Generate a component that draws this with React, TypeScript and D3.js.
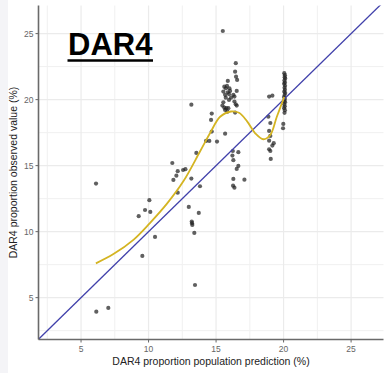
import React from 'react'
import * as d3 from 'd3'

// [population prediction %, observed value %]
const lowPoints: [number, number][] = [
  [6.11, 13.64], [6.13, 3.94], [7.02, 4.22], [9.27, 11.17], [9.54, 8.16],
  [9.74, 11.64], [10.06, 12.38], [10.13, 11.49], [10.48, 9.6],
]
const midPoints: [number, number][] = [
  [11.76, 15.2], [11.84, 13.92], [12.06, 14.24], [12.16, 14.58], [12.16, 12.95],
  [12.56, 14.67], [12.73, 14.73], [12.98, 11.87], [13.17, 19.62], [13.17, 14.02],
  [13.2, 10.76], [13.22, 10.64], [13.24, 10.51], [13.39, 9.9], [13.44, 5.96],
  [13.54, 15.96], [13.72, 11.42], [13.81, 13.44],
  [14.26, 16.87], [14.5, 16.87], [14.63, 18.46], [14.68, 18.94], [14.68, 17.58],
  [15.07, 16.82],
]
const peakCluster: [number, number][] = [
  [15.5, 25.2], [16.46, 22.76], [16.41, 22.12], [16.48, 21.74], [16.56, 21.49],
  [15.87, 21.42], [15.61, 20.98], [15.81, 21.04], [15.72, 20.86], [15.99, 20.86],
  [16.53, 20.66], [15.54, 20.61], [15.87, 20.56], [16.04, 20.66], [15.67, 20.36],
  [15.96, 20.41], [16.28, 20.36], [15.72, 20.15], [16.11, 20.15], [16.36, 20.23],
  [15.54, 19.8], [15.96, 19.98], [16.36, 19.85], [15.47, 19.55], [15.61, 19.39],
  [15.76, 19.35], [15.91, 19.35], [16.46, 19.65], [16.53, 19.55], [15.67, 19.22],
  [15.84, 19.09], [16.41, 19.02], [15.67, 17.42],
  [16.24, 16.11], [16.65, 16.02], [16.21, 15.76], [16.28, 15.41], [16.65, 14.98],
  [16.53, 14.75], [16.28, 13.99], [17.1, 13.94], [16.26, 13.48], [16.36, 13.33],
]
const cluster19: [number, number][] = [
  [18.93, 20.23], [19.17, 20.3], [18.87, 18.71], [19.02, 18.23], [18.93, 17.63],
  [19.02, 17.25], [18.93, 16.89], [19.27, 16.7], [19.17, 16.52], [18.93, 16.24],
  [19.02, 16.11], [19.05, 15.51],
]
const column20: [number, number][] = [
  [20.05, 22.0], [20.1, 21.85], [20.08, 21.7], [20.12, 21.6], [20.06, 21.45],
  [20.1, 21.3], [20.04, 21.2], [20.11, 21.05], [20.07, 20.9], [20.1, 20.75],
  [20.05, 20.6], [20.12, 20.5], [20.08, 20.35], [20.03, 20.2], [20.1, 20.05],
  [20.06, 19.9], [20.11, 19.8], [20.05, 19.65], [20.09, 19.5], [20.04, 19.35],
  [20.1, 19.2], [20.07, 19.0], [19.98, 18.16], [19.96, 17.83],
]

// loess smooth
const smoothX = [6.1, 7.4, 8.9, 10.1, 11.35, 12.6, 13.8, 14.55, 15.3, 16.1, 16.7, 17.3, 17.9, 18.5, 19.0, 19.5, 20.05]
const smoothY = [7.6, 8.3, 9.4, 10.65, 12.1, 13.85, 16.05, 17.45, 18.7, 19.1, 19.0, 18.35, 17.45, 17.0, 17.3, 18.7, 20.2]

const majorTicks = [5, 10, 15, 20, 25]
const minorTicks = [2.5, 7.5, 12.5, 17.5, 22.5]

const W = 384
const H = 373
const left = 38.5
const right = 383.5
const top = 5.5
const bottom = 339.5

export default function App() {
  const x = d3.scaleLinear().domain([1.85, 27.4]).range([left, right])
  const y = d3.scaleLinear().domain([1.83, 27.13]).range([bottom, top])

  const points = [...lowPoints, ...midPoints, ...peakCluster, ...cluster19, ...column20]
  const smooth = d3.line<number>()
    .x((_, i) => x(smoothX[i]))
    .y(d => y(d))
    .curve(d3.curveCatmullRom.alpha(0.5))(smoothY)

  const lo = 1.85
  const hi = 27.4

  return (
    <svg width={W} height={H} style={{ position: 'absolute', left: 0, top: 0, background: '#fff' }}
      fontFamily="Liberation Sans, Arial, sans-serif">
      <rect x={0} y={0} width={8} height={H} fill="#f4f4f7" />
      <defs>
        <clipPath id="panel">
          <rect x={left} y={top} width={right - left} height={bottom - top} />
        </clipPath>
      </defs>
      {minorTicks.map(t => (
        <g key={'m' + t} stroke="#f0f0f0" strokeWidth={1}>
          {x(t) > left && x(t) < right && <line x1={x(t)} x2={x(t)} y1={top} y2={bottom} />}
          <line x1={left} x2={right} y1={y(t)} y2={y(t)} />
        </g>
      ))}
      {majorTicks.map(t => (
        <g key={'M' + t} stroke="#ebebeb" strokeWidth={1.2}>
          <line x1={x(t)} x2={x(t)} y1={top} y2={bottom} />
          <line x1={left} x2={right} y1={y(t)} y2={y(t)} />
        </g>
      ))}
      <g clipPath="url(#panel)">
        {points.map((p, i) => (
          <circle key={i} cx={x(p[0])} cy={y(p[1])} r={2.1} fill="#222" fillOpacity={0.72} />
        ))}
        <line x1={x(lo)} y1={y(lo)} x2={x(hi)} y2={y(hi)} stroke="#4040aa" strokeWidth={1.3} />
        <path d={smooth ?? ''} fill="none" stroke="#d4b422" strokeWidth={1.8} />
      </g>
      <line x1={left} x2={left} y1={top} y2={bottom} stroke="#6a6a6a" strokeWidth={1.6} />
      <line x1={left} x2={right} y1={bottom} y2={bottom} stroke="#6a6a6a" strokeWidth={1.6} />
      {majorTicks.map(t => (
        <g key={'t' + t} fill="#666" fontSize={8.5}>
          <line x1={left - 3} x2={left} y1={y(t)} y2={y(t)} stroke="#666" strokeWidth={1} />
          <text x={left - 5} y={y(t)} dy="0.35em" textAnchor="end">{t}</text>
          <line x1={x(t)} x2={x(t)} y1={bottom} y2={bottom + 3} stroke="#666" strokeWidth={1} />
          <text x={x(t)} y={bottom + 12} textAnchor="middle">{t}</text>
        </g>
      ))}
      <text x={(left + right) / 2} y={365} textAnchor="middle" fontSize={10.5} fill="#222">
        DAR4 proportion population prediction (%)
      </text>
      <text transform={`translate(17,${(top + bottom) / 2}) rotate(-90)`} textAnchor="middle"
        fontSize={10.5} fill="#222">
        DAR4 proportion observed value (%)
      </text>
      <text x={68} y={55} fontSize={31} fontWeight="bold" fill="#000">DAR4</text>
      <line x1={67.5} x2={153} y1={60.5} y2={60.5} stroke="#000" strokeWidth={2.5} />
    </svg>
  )
}
